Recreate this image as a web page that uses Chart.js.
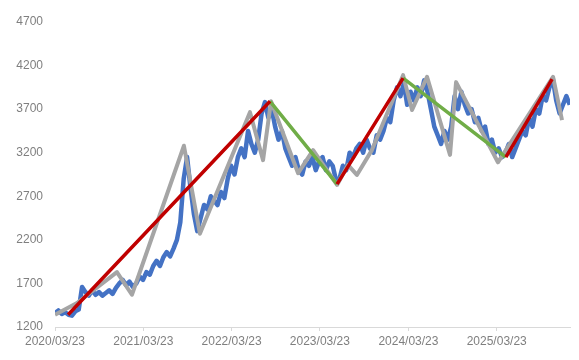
<!DOCTYPE html>
<html>
<head>
<meta charset="utf-8">
<script src="https://cdn.jsdelivr.net/npm/chart.js@4/dist/chart.umd.min.js"></script>
<style>
  html, body { margin: 0; padding: 0; background: #fff; }
  #wrap { width: 579px; height: 360px; }
</style>
</head>
<body>
<div id="wrap"><canvas id="chart"></canvas></div>
<script>
// x is days since 2020/03/23
const tickDays = [0, 365, 730, 1095, 1461, 1826]
const tickLabels = ['2020/03/23', '2021/03/23', '2022/03/23', '2023/03/23', '2024/03/23', '2025/03/23']
const yTicks = [1200, 1700, 2200, 2700, 3200, 3700, 4200, 4700]

// blue series, one reading every 14 days
const blueStep = 14
const blueValues = [
  1360, 1390, 1350, 1370, 1340, 1330, 1380, 1400, 1660, 1600,
  1560, 1620, 1570, 1600, 1560, 1590, 1620, 1580, 1650, 1700,
  1740, 1680, 1720, 1660, 1700, 1780, 1740, 1830, 1800, 1900,
  1960, 1900, 2000, 2060, 2010, 2100, 2200, 2400, 2900, 3150,
  2800, 2500, 2300, 2450, 2600, 2550, 2700, 2650, 2600, 2750,
  2680, 2900, 3050, 2950, 3150, 3250, 3150, 3450, 3300, 3200,
  3350, 3650, 3780, 3600, 3700, 3500, 3350, 3450, 3250, 3150,
  3050, 3150, 3000, 2950, 3100, 3050, 3150, 3000, 3100, 3150,
  3000, 3100, 3050, 2880, 2900, 3050, 3000, 3200, 3150, 3250,
  3300, 3200, 3350, 3250, 3200, 3400, 3350, 3450, 3600, 3550,
  3800, 3950, 3850, 4000, 3750, 3900, 3800, 3950, 3850, 4030,
  3900, 3700, 3500, 3400, 3300, 3450, 3350, 3500, 3850, 3700,
  3900, 3750, 3650, 3700, 3550, 3600, 3450, 3500, 3300, 3350,
  3200, 3250, 3150, 3200, 3300, 3150, 3250, 3350, 3450, 3400,
  3600, 3500, 3700, 3650, 3850, 3800, 3950, 4050, 3800, 3650,
  3750, 3850, 3750
]

// grey zigzag
const greyDays = [0, 91, 256, 318, 533, 599, 806, 860, 893, 1005, 1067, 1166, 1211, 1248, 1310, 1439, 1476, 1538, 1633, 1658, 1831, 2059, 2096]
const greyValues = [1340, 1475, 1830, 1570, 3280, 2270, 3665, 3115, 3790, 2965, 3230, 2830, 3060, 2945, 3230, 4090, 3690, 4070, 3175, 4010, 3090, 4070, 3575]

// trend lines (null = break)
const redDays = [54, 889, null, 1166, 1439, null, 1864, 2055]
const redValues = [1340, 3790, null, 2840, 4056, null, 3150, 4045]
const greenDays = [889, 1166, null, 1439, 1864]
const greenValues = [3790, 2840, null, 4056, 3150]

function pts(xs, ys) {
  return xs.map((x, i) => ({ x: x === null ? (xs[i - 1] + 1) : x, y: ys[i] }))
}

const blueData = blueValues.map((v, i) => ({ x: i * blueStep, y: v }))

const ctx = document.getElementById('chart').getContext('2d')
new Chart(ctx, {
  type: 'line',
  data: {
    datasets: [
      { data: pts(redDays, redValues), borderColor: '#C00000', borderWidth: 3.5, order: 0 },
      { data: pts(greenDays, greenValues), borderColor: '#70AD47', borderWidth: 3.5, order: 0 },
      { data: pts(greyDays, greyValues), borderColor: '#A5A5A5', borderWidth: 4, order: 1 },
      { data: blueData, borderColor: '#4472C4', borderWidth: 4.5, order: 2 }
    ]
  },
  options: {
    responsive: true,
    maintainAspectRatio: false,
    animation: false,
    spanGaps: false,
    layout: { padding: { top: 22, right: 9, left: 0, bottom: 0 } },
    elements: { point: { radius: 0 }, line: { tension: 0, borderCapStyle: 'butt', borderJoinStyle: 'round' } },
    plugins: { legend: { display: false }, tooltip: { enabled: false } },
    scales: {
      x: {
        type: 'linear',
        min: 0,
        max: 2129,
        afterBuildTicks: (s) => { s.ticks = tickDays.map(v => ({ value: v })) },
        afterFit: (s) => { s.height = 33 },
        ticks: {
          callback: (v) => tickLabels[tickDays.indexOf(v)],
          font: { family: 'Liberation Sans', size: 12 },
          color: '#7f7f7f',
          padding: 3,
          maxRotation: 0,
          autoSkip: false
        },
        grid: { drawOnChartArea: false, drawTicks: true, tickLength: 4, color: '#d9d9d9' },
        border: { color: '#d9d9d9', width: 1 }
      },
      y: {
        min: 1200,
        max: 4700,
        afterBuildTicks: (s) => { s.ticks = yTicks.map(v => ({ value: v })) },
        afterFit: (s) => { s.width = 55 },
        ticks: {
          callback: (v) => String(v),
          font: { family: 'Liberation Sans', size: 12 },
          color: '#7f7f7f',
          padding: 12
        },
        grid: { display: false, drawTicks: false },
        border: { display: false }
      }
    }
  }
})
</script>
</body>
</html>
